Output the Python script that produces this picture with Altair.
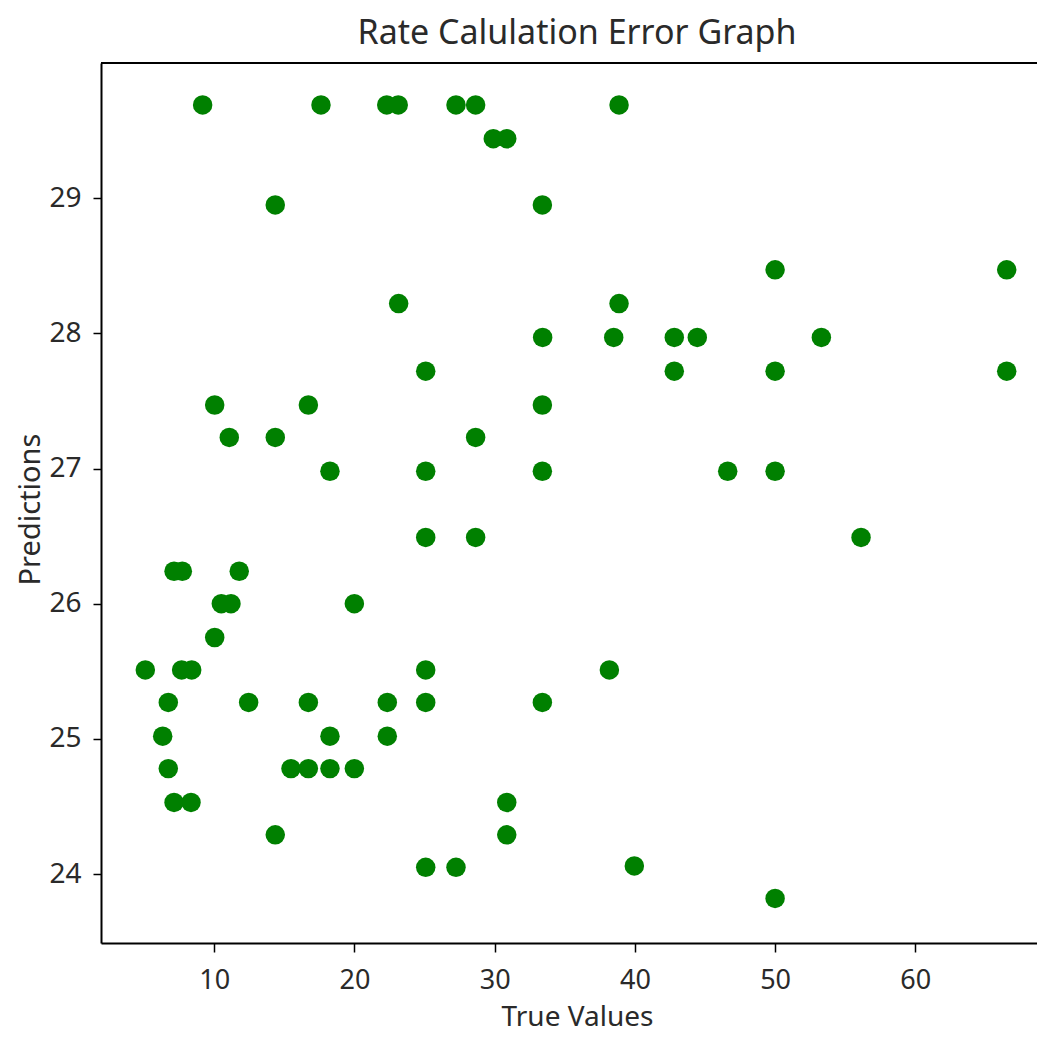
import altair as alt
import pandas as pd

true_values = [
    9.17, 17.61, 22.30, 23.12, 27.24, 28.64, 38.87,
    29.90, 30.86,
    14.35, 33.40,
    23.15, 38.87,
    50.0, 66.52,
    33.42, 38.49, 42.81, 44.45, 53.30,
    25.08, 42.81, 50.0, 66.52,
    10.03, 16.71, 33.40,
    11.07, 14.35, 28.64,
    18.25, 25.08, 33.40, 46.62, 50.0,
    25.08, 28.64, 56.13,
    7.13, 7.72, 11.78,
    10.50, 11.19, 19.99,
    10.03,
    5.08, 7.67, 8.39, 25.08, 38.18,
    6.72, 12.45, 16.71, 22.34, 25.08, 33.40,
    6.32, 18.25, 22.34,
    6.72, 15.47, 16.71, 18.25, 19.99,
    7.13, 8.34, 30.86,
    14.35, 30.86,
    25.08, 27.24, 39.96,
    50.0,
]
predictions = [
    29.69, 29.69, 29.69, 29.69, 29.69, 29.69, 29.69,
    29.44, 29.44,
    28.95, 28.95,
    28.22, 28.22,
    28.47, 28.47,
    27.97, 27.97, 27.97, 27.97, 27.97,
    27.72, 27.72, 27.72, 27.72,
    27.47, 27.47, 27.47,
    27.23, 27.23, 27.23,
    26.98, 26.98, 26.98, 26.98, 26.98,
    26.49, 26.49, 26.49,
    26.24, 26.24, 26.24,
    26.00, 26.00, 26.00,
    25.75,
    25.51, 25.51, 25.51, 25.51, 25.51,
    25.27, 25.27, 25.27, 25.27, 25.27, 25.27,
    25.02, 25.02, 25.02,
    24.78, 24.78, 24.78, 24.78, 24.78,
    24.53, 24.53, 24.53,
    24.29, 24.29,
    24.05, 24.05, 24.06,
    23.82,
]
x_ticks = [10, 20, 30, 40, 50, 60]
y_ticks = [24, 25, 26, 27, 28, 29]

df = pd.DataFrame({"True Values": true_values, "Predictions": predictions})

W, H = 936, 880
FONT = "Noto Sans"
TXT = "#2a2a2a"

points = alt.Chart(df).mark_circle(size=380, color="#008000", opacity=1).encode(
    x=alt.X("True Values:Q",
            scale=alt.Scale(domain=[1.92, 68.68], nice=False, zero=False),
            axis=alt.Axis(values=x_ticks, grid=False, tickSize=9, tickWidth=1.5,
                          tickColor="black", domainColor="black", domainWidth=2,
                          labelFont=FONT, labelFontSize=27, labelColor=TXT,
                          labelBaseline="alphabetic", labelPadding=36,
                          titleFont=FONT, titleFontSize=28,
                          titleFontWeight="normal", titleColor=TXT,
                          titleX=476, titleY=82, titleBaseline="alphabetic",
                          titleAlign="center")),
    y=alt.Y("Predictions:Q",
            scale=alt.Scale(domain=[23.49, 30.0], nice=False, zero=False),
            axis=alt.Axis(values=y_ticks, grid=False, tickSize=8, tickWidth=1.5,
                          tickColor="black", domainColor="black", domainWidth=2,
                          labelFont=FONT, labelFontSize=28, labelColor=TXT,
                          labelPadding=12, titleFont=FONT, titleFontSize=29,
                          titleFontWeight="normal", titleColor=TXT,
                          titleX=-62, titleY=446, titleAngle=270,
                          titleBaseline="alphabetic", titleAlign="center")),
)

top_spine = alt.Chart(df).mark_rule(color="black", strokeWidth=2).encode(
    x=alt.value(0), x2=alt.value(W), y=alt.value(0)
)

chart = alt.layer(points, top_spine).properties(
    width=W, height=H,
    title=alt.TitleParams("Rate Calulation Error Graph", font=FONT, fontSize=34,
                          fontWeight="normal", color=TXT, offset=11,
                          anchor="middle", dx=8),
    autosize=alt.AutoSizeParams(type="none"),
    padding={"left": 93, "top": 55, "right": 0, "bottom": 90},
).configure_view(stroke=None).configure(background="white")

chart.save("out.html", embed_options={"renderer": "svg", "actions": False})
